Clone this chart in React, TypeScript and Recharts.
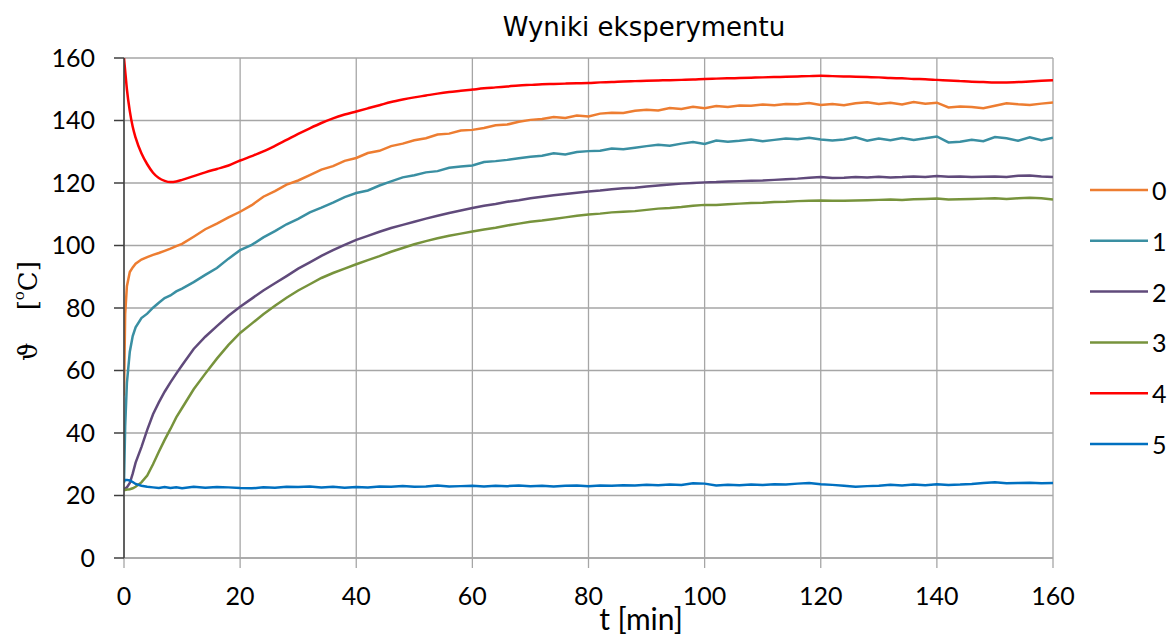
import React from "react";
import { LineChart, Line, XAxis, YAxis, CartesianGrid } from "recharts";

const T = [
  0, 0.2, 0.5, 1, 1.5, 2, 3, 4, 5, 6, 7, 8, 9, 10,
  12, 14, 16, 18, 20, 22, 24, 26, 28, 30,
  32, 34, 36, 38, 40, 42, 44, 46, 48, 50,
  52, 54, 56, 58, 60, 62, 64, 66, 68, 70,
  72, 74, 76, 78, 80, 82, 84, 86, 88, 90,
  92, 94, 96, 98, 100, 102, 104, 106, 108, 110,
  112, 114, 116, 118, 120, 122, 124, 126, 128, 130,
  132, 134, 136, 138, 140, 142, 144, 146, 148, 150,
  152, 154, 156, 158, 160,
];

const S0 = [
  52, 78, 87, 91.5, 93, 94.2, 95.5, 96.3, 97, 97.6, 98.3, 99, 99.8, 100.5,
  102.8, 105.2, 107, 109, 110.8, 112.9, 115.6, 117.4, 119.5, 120.8,
  122.5, 124.3, 125.4, 127.1, 128, 129.6, 130.3, 131.8, 132.6, 133.7,
  134.3, 135.5, 135.8, 136.8, 137, 137.6, 138.5, 138.7, 139.6, 140.2,
  140.5, 141.1, 140.8, 141.6, 141.3, 142.2, 142.5, 142.4, 143.1, 143.4,
  143.2, 144, 143.7, 144.4, 143.9, 144.6, 144.3, 144.8, 144.7, 145.1,
  144.9, 145.3, 145.2, 145.6, 145, 145.3, 144.9, 145.5, 145.8, 145.3,
  145.7, 145.1, 145.9, 145.4, 145.7, 144.2, 144.5, 144.3, 143.9, 144.7,
  145.5, 145.2, 145, 145.4, 145.8,
];

const S1 = [
  24, 42, 56, 66, 71, 73.8, 76.8, 78.2, 80.1, 81.7, 83.2, 84, 85.3, 86.2,
  88.3, 90.6, 92.8, 95.8, 98.5, 100.2, 102.6, 104.6, 106.8, 108.5,
  110.6, 112.1, 113.7, 115.5, 116.8, 117.6, 119.2, 120.5, 121.8, 122.5,
  123.4, 123.8, 124.9, 125.3, 125.6, 126.7, 127, 127.4, 127.9, 128.4,
  128.7, 129.5, 129.1, 129.9, 130.2, 130.3, 131, 130.8, 131.3, 131.8,
  132.2, 131.9, 132.6, 133.1, 132.5, 133.6, 133.2, 133.5, 133.9, 133.4,
  133.8, 134.2, 134, 134.5, 133.9, 133.6, 133.9, 134.6, 133.5, 134.2,
  133.7, 134.4, 133.8, 134.3, 134.9, 133, 133.2, 133.8, 133.4, 134.7,
  134.3, 133.5, 134.6, 133.7, 134.5,
];

const S2 = [
  22, 22.2, 22.6, 24, 27, 30.5, 35.5, 41, 46, 49.8, 53.2, 56.2, 59, 61.7,
  66.9, 70.8, 74.2, 77.5, 80.4, 83, 85.6, 87.9, 90.2, 92.6,
  94.6, 96.7, 98.5, 100.2, 101.8, 103.1, 104.4, 105.6, 106.6, 107.6,
  108.6, 109.5, 110.4, 111.2, 112, 112.7, 113.3, 114, 114.5, 115.1,
  115.6, 116.1, 116.5, 116.9, 117.3, 117.6, 118, 118.3, 118.5, 118.9,
  119.2, 119.5, 119.8, 120, 120.2, 120.3, 120.5, 120.6, 120.7, 120.8,
  121, 121.2, 121.4, 121.7, 121.9, 121.6, 121.7, 121.9, 121.8, 122,
  121.8, 121.9, 122.1, 121.9, 122.2, 122, 122.1, 121.9, 122, 122.1,
  121.9, 122.3, 122.4, 122.1, 121.9,
];

const S3 = [
  21.8, 21.8, 21.9, 22, 22.3, 22.8, 24.2, 26.4, 30, 34, 37.8, 41.3, 45, 48,
  54, 59, 63.8, 68.2, 72, 75, 78, 80.7, 83.3, 85.6,
  87.6, 89.6, 91.2, 92.6, 94, 95.3, 96.6, 98, 99.2, 100.4,
  101.4, 102.3, 103.1, 103.8, 104.5, 105.1, 105.7, 106.4, 107, 107.6,
  108, 108.5, 109, 109.5, 109.9, 110.2, 110.6, 110.8, 111, 111.4,
  111.8, 112, 112.3, 112.7, 113, 113, 113.2, 113.4, 113.6, 113.7,
  113.9, 114, 114.2, 114.3, 114.4, 114.3, 114.3, 114.4, 114.5, 114.6,
  114.7, 114.6, 114.8, 114.9, 115, 114.7, 114.8, 114.9, 115, 115.1,
  114.9, 115.1, 115.3, 115.1, 114.7,
];

const S4 = [
  160, 156, 150, 143, 138, 134.5, 129.5, 126, 123.3, 121.6, 120.7, 120.3, 120.5, 121,
  122.2, 123.4, 124.5, 125.6, 127.2, 128.6, 130.1, 131.9, 133.8, 135.7,
  137.5, 139.2, 140.7, 141.9, 142.9, 143.9, 144.9, 145.9, 146.7, 147.4,
  148.0, 148.6, 149.1, 149.5, 149.9, 150.3, 150.6, 150.9, 151.2, 151.4,
  151.6, 151.7, 151.8, 151.9, 152.0, 152.2, 152.3, 152.5, 152.6, 152.7,
  152.8, 152.9, 153.0, 153.1, 153.3, 153.4, 153.5, 153.6, 153.7, 153.8,
  153.9, 154.0, 154.1, 154.2, 154.3, 154.2, 154.1, 154.0, 153.9, 153.8,
  153.6, 153.5, 153.3, 153.2, 153.0, 152.8, 152.6, 152.4, 152.3, 152.2,
  152.2, 152.3, 152.5, 152.7, 152.9,
];

const S5 = [
  24.5, 25, 25, 24.8, 24.3, 23.7, 23.1, 22.8, 22.6, 22.4, 22.7, 22.4, 22.6, 22.3,
  22.8, 22.5, 22.7, 22.6, 22.4, 22.3, 22.6, 22.5, 22.8, 22.7,
  22.9, 22.6, 22.8, 22.5, 22.7, 22.6, 22.9, 22.8, 23, 22.8,
  22.9, 23.2, 22.9, 23, 23.1, 22.9, 23.1, 23, 23.2, 23,
  23.1, 22.9, 23.1, 23.2, 23, 23.2, 23.1, 23.3, 23.2, 23.4,
  23.3, 23.5, 23.4, 23.9, 23.8, 23.2, 23.4, 23.3, 23.5, 23.4,
  23.6, 23.5, 23.8, 24, 23.6, 23.4, 23.1, 22.8, 23, 23.1,
  23.4, 23.2, 23.5, 23.3, 23.6, 23.4, 23.5, 23.7, 24, 24.2,
  23.9, 24, 24.1, 23.9, 24,
];

const X_TICKS = [0, 20, 40, 60, 80, 100, 120, 140, 160];
const Y_TICKS = [0, 20, 40, 60, 80, 100, 120, 140, 160];

const SERIES_NAMES = ["0", "1", "2", "3", "4", "5"];
const SERIES_COLORS = ["#ED7D31", "#3A8FA2", "#604A7B", "#77933C", "#FF0000", "#0070C0"];
const SERIES_VALUES = [S0, S1, S2, S3, S4, S5];

const TITLE = "Wyniki eksperymentu";
const X_TITLE = "t [min]";

const data = T.map((t, i) => {
  const row: Record<string, number> = { t };
  SERIES_VALUES.forEach((vals, k) => {
    row["s" + k] = vals[i];
  });
  return row;
});

const tickStyle = { fill: "#000", fontSize: 25, fontFamily: "Lato, 'Open Sans', sans-serif" };

export default function App() {
  return (
    <div style={{ position: "absolute", left: 0, top: 0, width: 1171, height: 644, background: "#fff" }}>
      <LineChart
        width={1171}
        height={644}
        data={data}
        margin={{ top: 58, right: 118, bottom: 26, left: 64 }}
      >
        <CartesianGrid stroke="#a6a6a6" strokeWidth={1.3} />
        <XAxis
          type="number"
          dataKey="t"
          domain={[0, 160]}
          ticks={X_TICKS}
          interval={0}
          height={60}
          stroke="#a6a6a6"
          strokeWidth={1.3}
          tickSize={10}
          tickMargin={19}
          tick={tickStyle}
          allowDataOverflow
        />
        <YAxis
          type="number"
          domain={[0, 160]}
          ticks={Y_TICKS}
          interval={0}
          width={60}
          stroke="#3f3f3f"
          strokeWidth={1.5}
          tickSize={10}
          tickMargin={19}
          tick={tickStyle}
          allowDataOverflow
        />
        {SERIES_NAMES.map((name, k) => (
          <Line
            key={name}
            name={name}
            dataKey={"s" + k}
            type={k === 4 ? "monotone" : "linear"}
            stroke={SERIES_COLORS[k]}
            strokeWidth={2.5}
            dot={false}
            activeDot={false}
            isAnimationActive={false}
          />
        ))}
      </LineChart>
      <svg
        width={1171}
        height={644}
        style={{ position: "absolute", left: 0, top: 0, pointerEvents: "none" }}
      >
        <text
          x={644}
          y={36}
          textAnchor="middle"
          fontFamily="'DejaVu Sans', Verdana, sans-serif"
          fontSize={26}
          fill="#000"
        >
          {TITLE}
        </text>
        <text
          x={641}
          y={630}
          textAnchor="middle"
          fontFamily="Lato, 'Open Sans', sans-serif"
          fontSize={30}
          fill="#000"
        >
          {X_TITLE}
        </text>
        <text
          transform="translate(28,311) rotate(-90)"
          textAnchor="middle"
          dominantBaseline="central"
          fontFamily="'DejaVu Serif', 'Liberation Serif', serif"
          fontSize={26}
          fill="#000"
        >
          <tspan>ϑ</tspan>
          <tspan dx={32}>[</tspan>
          <tspan fontSize={15} dy={-9}>o</tspan>
          <tspan dy={9}>C]</tspan>
        </text>
        {SERIES_NAMES.map((name, k) => {
          const y = 190 + k * 50.8;
          return (
            <g key={name}>
              <line x1={1090} x2={1148} y1={y} y2={y} stroke={SERIES_COLORS[k]} strokeWidth={2.5} />
              <text
                x={1152}
                y={y}
                dominantBaseline="central"
                fontFamily="Lato, 'Open Sans', sans-serif"
                fontSize={25}
                fill="#000"
              >
                {name}
              </text>
            </g>
          );
        })}
      </svg>
    </div>
  );
}
